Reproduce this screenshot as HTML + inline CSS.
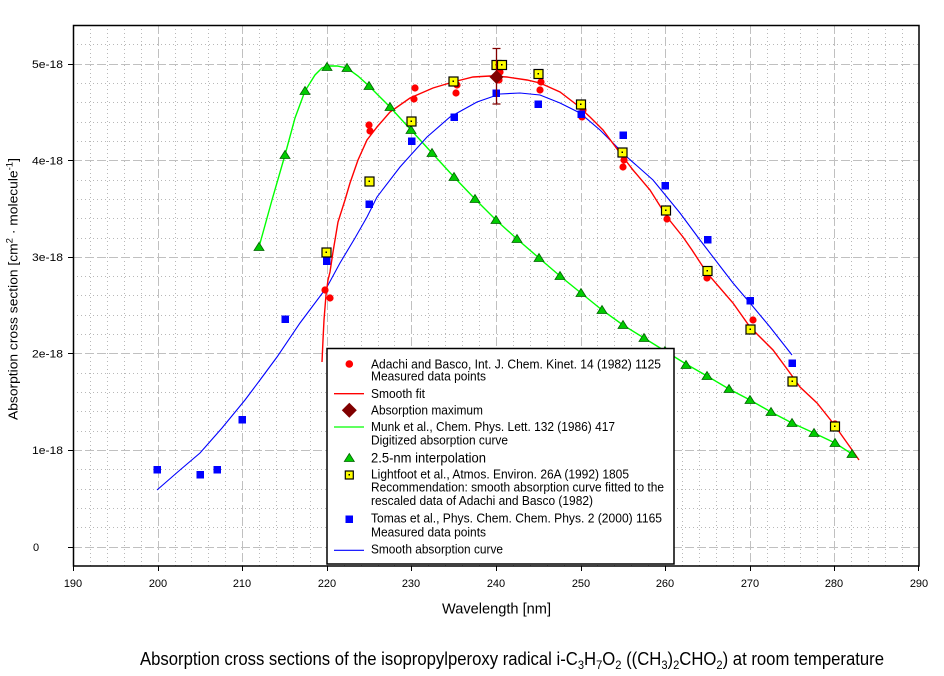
<!DOCTYPE html>
<html><head><meta charset="utf-8"><style>
html,body{margin:0;padding:0;background:#fff;}
svg{display:block;}
text{font-family:"Liberation Sans",Arial,sans-serif;fill:#000;}
</style></head><body>
<svg width="944" height="676" viewBox="0 0 944 676" xmlns="http://www.w3.org/2000/svg">
<rect width="944" height="676" fill="#fff"/>
<!-- minor grid -->
<path fill="none" stroke="#b8b8b8" stroke-width="1" stroke-dasharray="1,3" d="
M90.5 25V566 M107.5 25V566 M124.5 25V566 M141.5 25V566
M175.5 25V566 M191.5 25V566 M208.5 25V566 M225.5 25V566
M259.5 25V566 M276.5 25V566 M293.5 25V566 M310.5 25V566
M344.5 25V566 M361.5 25V566 M378.5 25V566 M394.5 25V566
M428.5 25V566 M445.5 25V566 M462.5 25V566 M479.5 25V566
M513.5 25V566 M530.5 25V566 M547.5 25V566 M564.5 25V566
M597.5 25V566 M614.5 25V566 M631.5 25V566 M648.5 25V566
M682.5 25V566 M699.5 25V566 M716.5 25V566 M733.5 25V566
M767.5 25V566 M784.5 25V566 M800.5 25V566 M817.5 25V566
M851.5 25V566 M868.5 25V566 M885.5 25V566 M902.5 25V566
M73 527.5H919 M73 508.5H919 M73 489.5H919 M73 469.5H919
M73 431.5H919 M73 411.5H919 M73 392.5H919 M73 373.5H919
M73 334.5H919 M73 315.5H919 M73 295.5H919 M73 276.5H919
M73 238.5H919 M73 218.5H919 M73 199.5H919 M73 180.5H919
M73 141.5H919 M73 122.5H919 M73 102.5H919 M73 83.5H919
M73 44.5H919"/>
<!-- major grid -->
<path fill="none" stroke="#c0c0c0" stroke-width="1" stroke-dasharray="9,3" d="
M158.5 25V566 M242.5 25V566 M327.5 25V566 M411.5 25V566 M496.5 25V566
M581.5 25V566 M665.5 25V566 M750.5 25V566 M834.5 25V566
M73 547.5H919 M73 450.5H919 M73 353.5H919 M73 257.5H919 M73 160.5H919 M73 64.5H919"/>
<!-- axes frame -->
<rect x="73.5" y="25.5" width="845.5" height="540.5" fill="none" stroke="#000" stroke-width="1.5"/>
<!-- y ticks -->
<path stroke="#000" stroke-width="1" d="M68 547.5H73 M68 450.5H73 M68 353.5H73 M68 257.5H73 M68 160.5H73 M68 64.5H73"/>
<!-- x ticks -->
<path stroke="#000" stroke-width="1" d="M73.5 566V571 M158.5 566V571 M242.5 566V571 M327.5 566V571 M411.5 566V571 M496.5 566V571 M581.5 566V571 M665.5 566V571 M750.5 566V571 M834.5 566V571 M918.5 566V571"/>
<!-- y tick labels -->
<g font-size="11">
<text x="32" y="68" textLength="31" lengthAdjust="spacingAndGlyphs">5e-18</text>
<text x="32" y="164.5" textLength="31" lengthAdjust="spacingAndGlyphs">4e-18</text>
<text x="32" y="261" textLength="31" lengthAdjust="spacingAndGlyphs">3e-18</text>
<text x="32" y="357.5" textLength="31" lengthAdjust="spacingAndGlyphs">2e-18</text>
<text x="32" y="454" textLength="31" lengthAdjust="spacingAndGlyphs">1e-18</text>
<text x="33" y="551">0</text>
</g>
<!-- x tick labels -->
<g font-size="11" text-anchor="middle">
<text x="73" y="587">190</text><text x="158" y="587">200</text><text x="242" y="587">210</text>
<text x="327" y="587">220</text><text x="411" y="587">230</text><text x="496" y="587">240</text>
<text x="581" y="587">250</text><text x="665" y="587">260</text><text x="750" y="587">270</text>
<text x="834" y="587">280</text><text x="919" y="587">290</text>
</g>
<text x="442" y="613.5" font-size="14.5" textLength="109" lengthAdjust="spacingAndGlyphs">Wavelength [nm]</text>
<text transform="translate(17.5,289) rotate(-90)" text-anchor="middle" font-size="13" textLength="262" lengthAdjust="spacingAndGlyphs">Absorption cross section [cm<tspan font-size="9" dy="-5">2</tspan><tspan dy="5"> · molecule</tspan><tspan font-size="9" dy="-5">-1</tspan><tspan dy="5">]</tspan></text>
<text x="140" y="665" font-size="18" textLength="744" lengthAdjust="spacingAndGlyphs">Absorption cross sections of the isopropylperoxy radical i-C<tspan font-size="12" dy="4">3</tspan><tspan dy="-4">H</tspan><tspan font-size="12" dy="4">7</tspan><tspan dy="-4">O</tspan><tspan font-size="12" dy="4">2</tspan><tspan dy="-4"> ((CH</tspan><tspan font-size="12" dy="4">3</tspan><tspan dy="-4">)</tspan><tspan font-size="12" dy="4">2</tspan><tspan dy="-4">CHO</tspan><tspan font-size="12" dy="4">2</tspan><tspan dy="-4">) at room temperature</tspan></text>

<!-- curves -->
<polyline fill="none" stroke="#00ff00" stroke-width="1.4" points="259,247 272,200 285,155 295,118 305,91 315,75 322,68 327,66 337,66 347,68 358,76 369,86 390,107 411,130 432,153 454,177 475,199 496,220 517,239 539,258 560,276 581,293 602,310 623,325 644,338 665,351 686,364 707,376 729,389 750,400 771,412 792,423 814,433 835,443 852,454 856,456"/>
<polyline fill="none" stroke="#0000ff" stroke-width="1.1" points="157,490 180,470 200,453 222,428 245,400 260,380 277,357 300,323 327,287 340,263 355,238 367,217 377,197 400,167 427,137 450,117 477,102 500,94 520,93 540,95 560,103 580,113 600,130 627,157 653,180 680,213 700,240 723,270 733,283 750,303 770,327 792,355"/>
<polyline fill="none" stroke="#ff0000" stroke-width="1.4" points="322,362 323,340 324,320 326,295 328,280 330,272 333,252 338,222 345,200 350,183 358,160 367,140 377,127 390,112 410,98 433,88 453,82 473,77 490,76 507,77 527,80 540,83 560,92 577,105 590,117 603,130 620,153 633,170 650,190 667,217 683,237 692,250 707,273 733,303 750,327 773,350 790,373 800,387 817,403 833,423 850,447 859,460"/>

<!-- red dots -->
<g fill="#ff0000">
<circle cx="325" cy="290" r="3.6"/><circle cx="330" cy="298" r="3.6"/>
<circle cx="369" cy="125" r="3.6"/><circle cx="370" cy="131" r="3.6"/>
<circle cx="415" cy="88" r="3.6"/><circle cx="414" cy="99" r="3.6"/>
<circle cx="457" cy="85" r="3.6"/><circle cx="456" cy="93" r="3.6"/>
<circle cx="500" cy="72" r="3.6"/><circle cx="499" cy="80" r="3.6"/>
<circle cx="541" cy="82" r="3.6"/><circle cx="540" cy="90" r="3.6"/>
<circle cx="583" cy="110" r="3.6"/><circle cx="582" cy="117" r="3.6"/>
<circle cx="624" cy="160" r="3.6"/><circle cx="623" cy="167" r="3.6"/>
<circle cx="667" cy="212" r="3.6"/><circle cx="667" cy="219" r="3.6"/>
<circle cx="707" cy="278" r="3.6"/><circle cx="753" cy="320" r="3.6"/>
<circle cx="835" cy="424" r="3.6"/>
</g>
<!-- triangles -->
<g fill="#00cc00" stroke="#006400" stroke-width="0.8">
<path d="M259 242.5l5 8h-10z"/><path d="M285 150.5l5 8h-10z"/><path d="M305 86.5l5 8h-10z"/>
<path d="M327 62.5l5 8h-10z"/><path d="M347 63.5l5 8h-10z"/><path d="M369 81.5l5 8h-10z"/>
<path d="M390 102.5l5 8h-10z"/><path d="M411 125.5l5 8h-10z"/><path d="M432 148.5l5 8h-10z"/>
<path d="M454 172.5l5 8h-10z"/><path d="M475 194.5l5 8h-10z"/><path d="M496 215.5l5 8h-10z"/>
<path d="M517 234.5l5 8h-10z"/><path d="M539 253.5l5 8h-10z"/><path d="M560 271.5l5 8h-10z"/>
<path d="M581 288.5l5 8h-10z"/><path d="M602 305.5l5 8h-10z"/><path d="M623 320.5l5 8h-10z"/>
<path d="M644 333.5l5 8h-10z"/><path d="M665 346.5l5 8h-10z"/><path d="M686 360.5l5 8h-10z"/>
<path d="M707 371.5l5 8h-10z"/><path d="M729 384.5l5 8h-10z"/><path d="M750 395.5l5 8h-10z"/>
<path d="M771 407.5l5 8h-10z"/><path d="M792 418.5l5 8h-10z"/><path d="M814 428.5l5 8h-10z"/>
<path d="M835 438.5l5 8h-10z"/><path d="M852 449.5l5 8h-10z"/>
</g>
<!-- blue squares -->
<g fill="#0000ff">
<rect x="153.5" y="466" width="7.5" height="7.5"/><rect x="196.5" y="471" width="7.5" height="7.5"/>
<rect x="213.5" y="466" width="7.5" height="7.5"/><rect x="238.5" y="416" width="7.5" height="7.5"/>
<rect x="281.5" y="315.5" width="7.5" height="7.5"/><rect x="323" y="257.5" width="7.5" height="7.5"/>
<rect x="365.5" y="200.5" width="7.5" height="7.5"/><rect x="408" y="137.5" width="7.5" height="7.5"/>
<rect x="450.5" y="113.5" width="7.5" height="7.5"/><rect x="492.5" y="89.5" width="7.5" height="7.5"/>
<rect x="534.5" y="100.5" width="7.5" height="7.5"/><rect x="577.5" y="110.5" width="7.5" height="7.5"/>
<rect x="619.5" y="131.5" width="7.5" height="7.5"/><rect x="661.5" y="182" width="7.5" height="7.5"/>
<rect x="704" y="236" width="7.5" height="7.5"/><rect x="746.5" y="297" width="7.5" height="7.5"/>
<rect x="788.5" y="359.5" width="7.5" height="7.5"/>
</g>
<!-- yellow squares -->
<g fill="#ffff00" stroke="#000" stroke-width="1.2">
<rect x="322" y="248" width="9" height="9"/><rect x="365" y="177" width="9" height="9"/>
<rect x="407" y="117" width="9" height="9"/><rect x="449" y="77" width="9" height="9"/>
<rect x="492" y="60.5" width="9" height="9"/><rect x="497.5" y="60.5" width="9" height="9"/>
<rect x="534" y="69.5" width="9" height="9"/><rect x="576.5" y="100" width="9" height="9"/>
<rect x="618" y="148" width="9" height="9"/><rect x="661.5" y="206" width="9" height="9"/>
<rect x="703" y="266.5" width="9" height="9"/><rect x="746" y="325" width="9" height="9"/>
<rect x="788" y="377" width="9" height="9"/><rect x="830.5" y="422" width="9" height="9"/>
</g>
<g fill="#000">
<rect x="325.5" y="251.5" width="1.5" height="1.5"/><rect x="368.5" y="180.5" width="1.5" height="1.5"/>
<rect x="410.5" y="120.5" width="1.5" height="1.5"/><rect x="452.5" y="80.5" width="1.5" height="1.5"/>
<rect x="495.5" y="64" width="1.5" height="1.5"/><rect x="501" y="64" width="1.5" height="1.5"/>
<rect x="537.5" y="73" width="1.5" height="1.5"/><rect x="580" y="103.5" width="1.5" height="1.5"/>
<rect x="621.5" y="151.5" width="1.5" height="1.5"/><rect x="665" y="209.5" width="1.5" height="1.5"/>
<rect x="706.5" y="270" width="1.5" height="1.5"/><rect x="749.5" y="328.5" width="1.5" height="1.5"/>
<rect x="791.5" y="380.5" width="1.5" height="1.5"/><rect x="834" y="425.5" width="1.5" height="1.5"/>
</g>
<!-- absorption maximum with error bar -->
<path stroke="#800000" stroke-width="1.3" fill="none" d="M496.5 48V104 M492.5 48.5H500.5 M492.5 104H500.5"/>
<path fill="#800000" d="M496.5 70l7 7l-7 7l-7-7z"/>

<!-- legend -->
<rect x="327" y="348.5" width="347" height="215.5" fill="#fff" stroke="#000" stroke-width="1.5"/>
<circle cx="349.3" cy="364" r="3.8" fill="#ff0000"/>
<path d="M334 393.7H364" stroke="#ff0000" stroke-width="1.3"/>
<path d="M349.3 402.8l7.5 7.5l-7.5 7.5l-7.5-7.5z" fill="#800000"/>
<path d="M334 427H364" stroke="#00ff00" stroke-width="1.3"/>
<path d="M349.3 453.5l5 8h-10z" fill="#00cc00" stroke="#006400" stroke-width="0.8"/>
<rect x="345.3" y="471" width="8" height="8" fill="#ffff00" stroke="#000" stroke-width="1.2"/>
<rect x="348.5" y="474" width="1.5" height="1.5" fill="#000"/>
<rect x="345.5" y="515.5" width="7.5" height="7.5" fill="#0000ff"/>
<path d="M334 550.3H364" stroke="#0000ff" stroke-width="1.2"/>
<g font-size="12.5">
<text x="371" y="368.3" textLength="290" lengthAdjust="spacingAndGlyphs">Adachi and Basco, Int. J. Chem. Kinet. 14 (1982) 1125</text>
<text x="371" y="380.7" textLength="115" lengthAdjust="spacingAndGlyphs">Measured data points</text>
<text x="371" y="398" textLength="54" lengthAdjust="spacingAndGlyphs">Smooth fit</text>
<text x="371" y="414.5" textLength="112" lengthAdjust="spacingAndGlyphs">Absorption maximum</text>
<text x="371" y="431" textLength="244" lengthAdjust="spacingAndGlyphs">Munk et al., Chem. Phys. Lett. 132 (1986) 417</text>
<text x="371" y="444.3" textLength="137" lengthAdjust="spacingAndGlyphs">Digitized absorption curve</text>
<text x="371" y="462.7" font-size="13.5" textLength="115" lengthAdjust="spacingAndGlyphs">2.5-nm interpolation</text>
<text x="371" y="478.3" textLength="258" lengthAdjust="spacingAndGlyphs">Lightfoot et al., Atmos. Environ. 26A (1992) 1805</text>
<text x="371" y="491.7" textLength="293" lengthAdjust="spacingAndGlyphs">Recommendation: smooth absorption curve fitted to the</text>
<text x="371" y="505" textLength="222" lengthAdjust="spacingAndGlyphs">rescaled data of Adachi and Basco (1982)</text>
<text x="371" y="522.7" textLength="291" lengthAdjust="spacingAndGlyphs">Tomas et al., Phys. Chem. Chem. Phys. 2 (2000) 1165</text>
<text x="371" y="536.7" textLength="115" lengthAdjust="spacingAndGlyphs">Measured data points</text>
<text x="371" y="553.7" textLength="132" lengthAdjust="spacingAndGlyphs">Smooth absorption curve</text>
</g>
</svg>
</body></html>
